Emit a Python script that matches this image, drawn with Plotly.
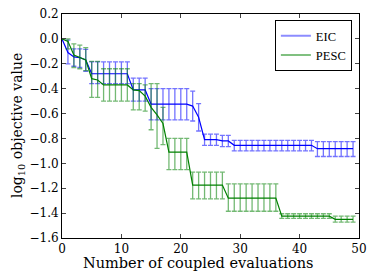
import plotly.graph_objects as go

evals = list(range(50))

eic_mean = [0.0, -0.11, -0.145, -0.15, -0.17,
            -0.28, -0.28, -0.28, -0.28, -0.28, -0.28, -0.28,
            -0.41, -0.41, -0.41,
            -0.525, -0.525, -0.525, -0.525, -0.525, -0.525, -0.525,
            -0.54, -0.63,
            -0.81, -0.81, -0.81, -0.82, -0.82,
            -0.855, -0.855, -0.855, -0.855, -0.855, -0.855, -0.855,
            -0.855, -0.855, -0.855, -0.855, -0.855, -0.855, -0.855,
            -0.882, -0.882, -0.882, -0.882, -0.882, -0.882, -0.882]
eic_upper = [0.0, -0.01, -0.08, -0.08, -0.085,
             -0.185, -0.185, -0.185, -0.185, -0.185, -0.185, -0.185,
             -0.315, -0.315, -0.315,
             -0.40, -0.40, -0.40, -0.40, -0.40, -0.40, -0.40,
             -0.42, -0.52,
             -0.765, -0.765, -0.765, -0.775, -0.775,
             -0.815, -0.815, -0.815, -0.815, -0.815, -0.815, -0.815,
             -0.815, -0.815, -0.815, -0.815, -0.815, -0.815, -0.815,
             -0.825, -0.825, -0.825, -0.825, -0.825, -0.825, -0.825]
eic_lower = [0.0, -0.20, -0.22, -0.23, -0.26,
             -0.36, -0.36, -0.36, -0.36, -0.36, -0.36, -0.36,
             -0.50, -0.50, -0.50,
             -0.65, -0.65, -0.65, -0.65, -0.65, -0.65, -0.65,
             -0.66, -0.74,
             -0.855, -0.855, -0.855, -0.865, -0.865,
             -0.90, -0.90, -0.90, -0.90, -0.90, -0.90, -0.90,
             -0.90, -0.90, -0.90, -0.90, -0.90, -0.90, -0.90,
             -0.945, -0.945, -0.945, -0.945, -0.945, -0.945, -0.945]

pesc_mean = [0.0, -0.02, -0.13, -0.15, -0.17, -0.32, -0.33,
             -0.37, -0.37, -0.37, -0.37, -0.37,
             -0.41, -0.415, -0.46, -0.55, -0.61, -0.68,
             -0.91, -0.91, -0.91, -0.91,
             -1.175, -1.175, -1.175, -1.175, -1.175, -1.175,
             -1.28, -1.28, -1.28, -1.28, -1.28, -1.28, -1.28, -1.28, -1.28,
             -1.425, -1.425, -1.425, -1.425, -1.425, -1.425, -1.425, -1.425, -1.425,
             -1.45, -1.45, -1.45, -1.45]
pesc_upper = [0.0, 0.0, -0.04, -0.05, -0.07, -0.18, -0.18,
              -0.24, -0.24, -0.24, -0.24, -0.24,
              -0.36, -0.36, -0.37, -0.36, -0.36, -0.55,
              -0.80, -0.80, -0.80, -0.80,
              -1.07, -1.07, -1.07, -1.07, -1.07, -1.07,
              -1.165, -1.165, -1.165, -1.165, -1.165, -1.165, -1.165, -1.165, -1.165,
              -1.405, -1.405, -1.405, -1.405, -1.405, -1.405, -1.405, -1.405, -1.405,
              -1.425, -1.425, -1.425, -1.425]
pesc_lower = [0.0, -0.08, -0.23, -0.24, -0.255, -0.47, -0.47,
              -0.50, -0.50, -0.50, -0.50, -0.50,
              -0.57, -0.57, -0.58, -0.73, -0.88, -0.85,
              -1.05, -1.05, -1.05, -1.05,
              -1.285, -1.285, -1.285, -1.285, -1.285, -1.285,
              -1.385, -1.385, -1.385, -1.385, -1.385, -1.385, -1.385, -1.385, -1.385,
              -1.442, -1.442, -1.442, -1.442, -1.442, -1.442, -1.442, -1.442, -1.442,
              -1.472, -1.472, -1.472, -1.472]

x_ticks = [0, 10, 20, 30, 40, 50]
y_ticks = [0.2, 0.0, -0.2, -0.4, -0.6, -0.8, -1.0, -1.2, -1.4, -1.6]
x_title = "Number of coupled evaluations"
y_title = "log<sub>10</sub> objective value"


def err(mean, upper, lower):
    plus = [round(u - m, 4) for m, u in zip(mean, upper)]
    minus = [round(m - l, 4) for m, l in zip(mean, lower)]
    return plus, minus


fig = go.Figure()
series = [
    ("EIC", eic_mean, eic_upper, eic_lower, "#0000ff", "rgba(0,0,255,0.55)", "#8c8cff"),
    ("PESC", pesc_mean, pesc_upper, pesc_lower, "#008000", "rgba(0,128,0,0.55)", "#80c080"),
]
for name, mean, up, lo, col, ecol, lcol in series:
    plus, minus = err(mean, up, lo)
    fig.add_trace(go.Scatter(
        x=evals, y=mean, name=name, mode="lines", showlegend=False,
        legendgroup=name,
        line=dict(color=col, width=1.2),
        error_y=dict(type="data", symmetric=False, array=plus, arrayminus=minus,
                     color=ecol, thickness=1.3, width=2.5),
    ))
for name, mean, up, lo, col, ecol, lcol in series:
    fig.add_trace(go.Scatter(
        x=[None], y=[None], name=name, mode="lines", legendgroup=name,
        line=dict(color=lcol, width=2),
    ))

serif = "DejaVu Serif"
fig.update_layout(
    width=374, height=280,
    margin=dict(l=62, r=15, t=14, b=42),
    paper_bgcolor="white", plot_bgcolor="white",
    font=dict(family=serif, size=12, color="black"),
    legend=dict(x=0.976, y=0.973, xanchor="right", yanchor="top",
                bordercolor="black", borderwidth=1, bgcolor="white",
                font=dict(family="Liberation Serif", size=12.5),
                tracegroupgap=0, itemwidth=30),
    xaxis=dict(range=[0, 50], tickvals=x_ticks, ticks="inside", ticklen=4,
               automargin=False,
               showgrid=False, zeroline=False, showline=True, linecolor="black",
               linewidth=1, mirror="allticks", tickfont=dict(family=serif, size=12)),
    yaxis=dict(range=[-1.6, 0.2], tickvals=y_ticks, tickformat=".1f", ticks="inside",
               automargin=False,
               ticklen=4, showgrid=False, zeroline=False, showline=True,
               linecolor="black", linewidth=1, mirror="allticks",
               tickfont=dict(family=serif, size=12)),
    annotations=[
        dict(text=x_title, xref="paper", yref="paper", x=0.458, y=0,
             xanchor="center", yanchor="middle", yshift=-25, showarrow=False,
             font=dict(family=serif, size=14.5)),
        dict(text=y_title, xref="paper", yref="paper", x=-0.148, y=0.5,
             xanchor="center", yanchor="middle", textangle=-90, showarrow=False,
             font=dict(family=serif, size=14)),
    ],
)

fig.write_html("out.html", config={"displayModeBar": False},
               post_script="document.body.style.margin='0';"
                           "document.body.style.overflow='hidden';")
